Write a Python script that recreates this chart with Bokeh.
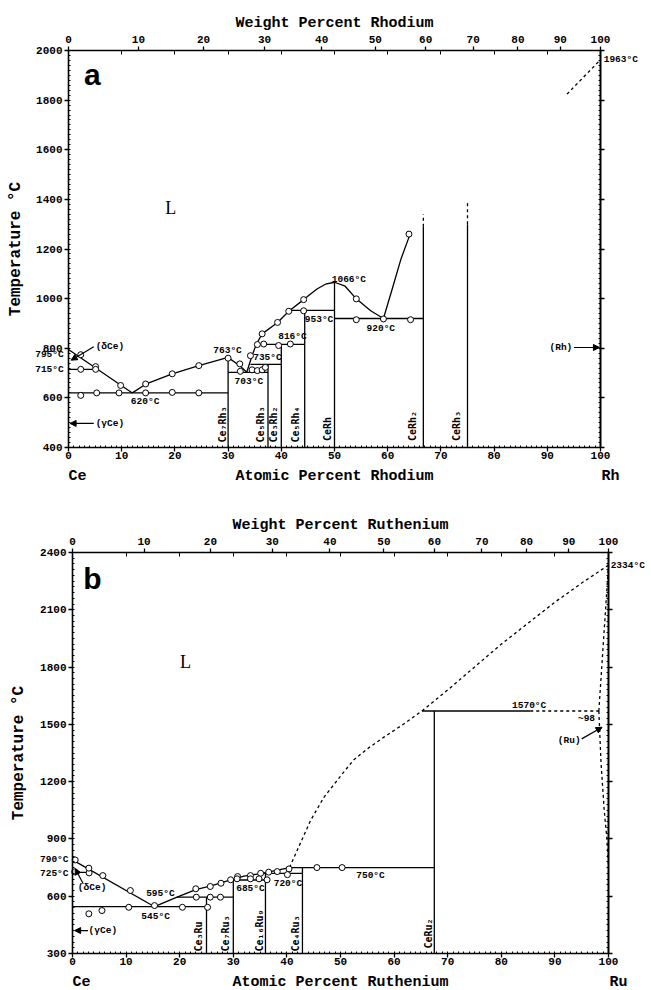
import numpy as np
from bokeh.plotting import figure
from bokeh.layouts import column
from bokeh.models import LinearAxis, FixedTicker, Arrow, NormalHead, Range1d
from bokeh.core.properties import value
from bokeh.embed import file_html
from bokeh.resources import INLINE

MONO = "Liberation Mono"
SERIF = "Liberation Serif"
SANS = "Liberation Sans"

# atomic weights used for the weight-percent scale
M_CE = 140.116
M_RH = 102.906
M_RU = 101.07

WT_TICKS = [0, 10, 20, 30, 40, 50, 60, 70, 80, 90, 100]
AT_TICKS = [0, 10, 20, 30, 40, 50, 60, 70, 80, 90, 100]

# ---------------- panel a : Ce-Rh ----------------
A_T_TICKS = [400, 600, 800, 1000, 1200, 1400, 1600, 1800, 2000]
A_LIQ1_X = [0, 12]
A_LIQ1_T = [795, 620]
A_LIQ2_X = [12, 14.5, 19.5, 24.5, 30, 32.3, 33.5]
A_LIQ2_T = [620, 655, 697, 730, 763, 728, 703]
A_LIQ3_X = [33.5, 34.5, 35.3, 36.4, 39.3, 41.4, 44.2, 46.7, 48.3, 50, 52, 54.1, 56.8, 59.2, 61, 62.5, 64.3]
A_LIQ3_T = [703, 770, 816, 858, 904, 949, 996, 1039, 1058, 1066, 1050, 999, 951, 920, 1050, 1160, 1265]

A_SEG_X0 = [0, 0, 30, 30, 37.5, 34.2, 40, 35.3, 44.4, 41.4, 50, 50, 66.7, 75]
A_SEG_T0 = [715, 620, 763, 703, 735, 735, 816, 816, 953, 953, 1066, 920, 1290, 1300]
A_SEG_X1 = [5.3, 30, 30, 37.5, 37.5, 40, 40, 44.4, 44.4, 50, 50, 66.7, 66.7, 75]
A_SEG_T1 = [715, 620, 400, 703, 400, 735, 400, 816, 400, 953, 400, 920, 400, 400]

A_DASH_X0 = [66.7, 75, 93.7]
A_DASH_T0 = [1290, 1300, 1824]
A_DASH_X1 = [66.7, 75, 100]
A_DASH_T1 = [1340, 1390, 1963]

A_PT_X = [2.3, 5.1, 2.3, 5.1, 2.3, 5.3, 9.5, 14.5, 19.5, 24.5, 9.8, 14.5, 19.5, 24.5, 30,
          32.2, 32.3, 34.5, 35.5, 36.4, 37.0, 34.2, 35.5, 36.4, 36.7, 39.5, 41.7, 39.3, 41.4,
          44.2, 44.2, 54.1, 54.1, 59.2, 64.3, 64.0]
A_PT_T = [774, 726, 715, 715, 610, 620, 620, 620, 622, 620, 650, 656, 697, 730, 760,
          737, 707, 713, 710, 713, 723, 770, 815, 858, 817, 811, 817, 904, 949,
          951, 996, 999, 915, 918, 915, 1260]

A_LAB_L_TEXT = ["(δCe)", "(γCe)", "1963°C"]
A_LAB_L_X = [5.1, 5.1, 100.6]
A_LAB_L_T = [806, 497, 1962]
A_LAB_C_TEXT = ["620°C", "763°C", "703°C", "735°C", "816°C", "953°C", "1066°C", "920°C"]
A_LAB_C_X = [14.4, 29.9, 33.9, 37.4, 42.1, 47.1, 52.7, 58.7]
A_LAB_C_T = [585, 790, 668, 762, 849, 915, 1078, 879]
A_LAB_R_TEXT = ["795°C", "715°C", "(Rh)"]
A_LAB_R_X = [-0.9, -0.9, 94.7]
A_LAB_R_T = [776, 715, 803]

A_PHASE_TEXT = ["Ce₇Rh₃", "Ce₅Rh₃", "Ce₃Rh₂", "Ce₅Rh₄", "CeRh", "CeRh₂", "CeRh₃"]
A_PHASE_X = [28.9, 36.0, 38.6, 42.7, 48.6, 64.6, 72.9]
A_PHASE_T = [420, 420, 420, 420, 426, 426, 426]

A_ARROW = [(4.75, 806, 0.5, 752), (4.75, 497, 0.3, 497), (95.0, 803, 99.8, 803)]

# ---------------- panel b : Ce-Ru ----------------
B_T_TICKS = [300, 600, 900, 1200, 1500, 1800, 2100, 2400]
B_LIQ1_X = [0, 15.3]
B_LIQ1_T = [790, 545]
B_LIQ2_X = [15.3, 19.5, 23, 26, 29.5, 32, 35.4, 38, 40.5]
B_LIQ2_T = [545, 595, 635, 655, 685, 705, 720, 735, 750]
B_DLIQ_X = [40.5, 41.9, 44.4, 46.9, 50.6, 52.5, 55.3, 58.1, 61.8, 65.2]
B_DLIQ_T = [750, 839, 996, 1118, 1250, 1315, 1378, 1433, 1502, 1570]
B_RULIQ_X = [65.2, 70, 75, 80, 85, 90, 95, 100]
B_RULIQ_T = [1570, 1680, 1800, 1920, 2030, 2140, 2240, 2334]
B_SOLV_X = [98.2, 98.6, 99.2, 99.7, 100]
B_SOLV_T = [1570, 1300, 1050, 900, 760]

B_SEG_X0 = [0, 0, 19.5, 25, 29.5, 30, 35.4, 36, 40.5, 42.9, 67.5, 65.2]
B_SEG_T0 = [725, 545, 595, 595, 685, 685, 720, 720, 750, 750, 1570, 1570]
B_SEG_X1 = [3.1, 25, 30, 25, 36, 30, 42.9, 36, 67.5, 42.9, 67.5, 85.4]
B_SEG_T1 = [725, 545, 595, 300, 685, 300, 720, 300, 750, 300, 300, 1570]

B_DASH_X0 = [85.4, 98.2]
B_DASH_T0 = [1570, 1570]
B_DASH_X1 = [98.2, 100]
B_DASH_T1 = [1570, 2334]

B_PT_X = [0.5, 0.4, 3.1, 3.05, 5.65, 10.8, 3.05, 5.5, 10.5, 15.3, 20.5, 25.2, 23.1, 25.7, 27.6,
          23.0, 25.7, 27.7, 29.5, 30.8, 33.2, 35.1, 36.6, 38.2, 40.4, 30.7, 33.2, 34.8, 36.3,
          40.1, 45.6, 50.3]
B_PT_T = [790, 728, 722, 747, 708, 630, 508, 525, 542, 551, 542, 542, 595, 595, 595,
          639, 651, 668, 686, 703, 708, 720, 726, 729, 743, 691, 691, 691, 686,
          713, 750, 750]

B_LAB_L_TEXT = ["(δCe)", "(γCe)", "2334°C"]
B_LAB_L_X = [1.0, 3.0, 100.4]
B_LAB_L_T = [645, 420, 2331]
B_LAB_C_TEXT = ["595°C", "545°C", "685°C", "720°C", "750°C", "1570°C", "~98"]
B_LAB_C_X = [16.4, 15.5, 33.2, 40.2, 55.6, 85.2, 95.9]
B_LAB_C_T = [612, 494, 640, 666, 708, 1597, 1529]
B_LAB_R_TEXT = ["790°C", "725°C", "(Ru)"]
B_LAB_R_X = [-0.75, -0.75, 94.8]
B_LAB_R_T = [790, 720, 1415]

B_PHASE_TEXT = ["Ce₃Ru", "Ce₇Ru₃", "Ce₁₆Ru₉", "Ce₄Ru₃", "CeRu₂"]
B_PHASE_X = [23.6, 28.5, 34.8, 41.6, 66.5]
B_PHASE_T = [310, 310, 310, 310, 326]

B_ARROW = [(2.0, 665, 0.5, 745), (2.9, 420, 0.4, 420), (95.0, 1424, 98.8, 1485)]

W = 651


def wt_to_at(w, m):
    if w <= 0:
        return 0.0
    if w >= 100:
        return 100.0
    a = w / m
    b = (100.0 - w) / M_CE
    return 100.0 * a / (a + b)


def style_axis(ax, size="11px"):
    ax.axis_line_width = 1.6
    ax.axis_line_color = "black"
    ax.major_tick_line_width = 1.3
    ax.minor_tick_line_width = 1
    ax.major_tick_line_color = "black"
    ax.minor_tick_line_color = "black"
    ax.major_label_text_font = MONO
    ax.major_label_text_font_style = "bold"
    ax.major_label_text_font_size = size
    ax.major_label_text_color = "black"
    ax.axis_label_text_font = MONO
    ax.axis_label_text_font_style = "bold"
    ax.axis_label_text_font_size = "15px"
    ax.axis_label_text_color = "black"


def build(h, box, tr, t_ticks, t_step, metal_m, wt_title, at_title, elem, panel,
          panel_xy, L_xy, left_standoff,
          liq_solid, liq_dash, segs, dsegs, pts, lab_l, lab_c, lab_r, phases, arrows):
    bl, br, bt, bb = box            # pixel box of the axes inside the figure
    tmin, tmax = tr
    sx = (br - bl) / 100.0
    sy = (bb - bt) / float(tmax - tmin)
    xr = Range1d(-bl / sx, 100 + (W - br) / sx)
    yr = Range1d(tmin - (h - bb) / sy, tmax + bt / sy)

    p = figure(width=W, height=h, x_range=xr, y_range=yr,
               x_axis_location=None, y_axis_location=None,
               output_backend="svg", toolbar_location=None, min_border=0)
    p.grid.visible = False
    p.outline_line_color = None
    p.background_fill_color = "white"
    p.border_fill_color = "white"

    t_minor = list(range(tmin, tmax + 1, t_step))

    # bottom axis (atomic percent)
    xa = LinearAxis(fixed_location=tmin, bounds=(0, 100),
                    ticker=FixedTicker(ticks=AT_TICKS, minor_ticks=list(range(0, 101))))
    style_axis(xa)
    xa.major_tick_in = 0
    xa.major_tick_out = 4
    xa.minor_tick_in = 2
    xa.minor_tick_out = 0
    xa.major_label_standoff = 0
    p.add_layout(xa, "below")

    # left axis (temperature)
    ya = LinearAxis(fixed_location=0, bounds=(tmin, tmax),
                    ticker=FixedTicker(ticks=t_ticks, minor_ticks=t_minor))
    style_axis(ya)
    ya.axis_label = "Temperature °C"
    ya.axis_label_text_font_size = "16px"
    ya.major_tick_in = 0
    ya.major_tick_out = 4
    ya.minor_tick_in = 2
    ya.minor_tick_out = 0
    ya.major_label_standoff = 2
    ya.axis_label_standoff = left_standoff
    p.add_layout(ya, "left")

    # right axis (ticks only)
    ra1 = LinearAxis(fixed_location=100, bounds=(tmin, tmax),
                     ticker=FixedTicker(ticks=[], minor_ticks=t_ticks))
    style_axis(ra1)
    ra1.minor_tick_in = 0
    ra1.minor_tick_out = 4
    ra1.minor_tick_line_width = 1.3
    p.add_layout(ra1, "right")
    ra2 = LinearAxis(fixed_location=100, bounds=(tmin, tmax),
                     ticker=FixedTicker(ticks=[], minor_ticks=t_minor))
    style_axis(ra2)
    ra2.minor_tick_in = 2
    ra2.minor_tick_out = 0
    p.add_layout(ra2, "right")

    # top axis (weight percent)
    wpos = [wt_to_at(w, metal_m) for w in WT_TICKS]
    ta = LinearAxis(fixed_location=tmax, bounds=(0, 100),
                    ticker=FixedTicker(ticks=wpos, minor_ticks=AT_TICKS[1:-1]),
                    major_label_overrides={pos: str(w) for pos, w in zip(wpos, WT_TICKS)})
    style_axis(ta)
    ta.axis_label = wt_title
    ta.major_tick_in = 0
    ta.major_tick_out = 4
    ta.minor_tick_in = 4
    ta.minor_tick_out = 0
    ta.major_label_standoff = 4
    ta.axis_label_standoff = 1
    p.add_layout(ta, "above")

    lw = 1.3
    for xs, ts in liq_solid:
        p.line(xs, ts, line_color="black", line_width=lw)
    for xs, ts in liq_dash:
        p.line(xs, ts, line_color="black", line_width=lw, line_dash="3 3")
    p.segment(x0=segs[0], y0=segs[1], x1=segs[2], y1=segs[3], line_color="black", line_width=lw)
    p.segment(x0=dsegs[0], y0=dsegs[1], x1=dsegs[2], y1=dsegs[3], line_color="black",
              line_width=lw, line_dash="3 3")
    p.scatter(pts[0], pts[1], marker="circle", size=6, fill_color="white",
              line_color="black", line_width=1)

    for (txt, xs, ts), al in ((lab_l, "left"), (lab_c, "center"), (lab_r, "right")):
        p.text(x=xs, y=ts, text=txt, text_font=value(MONO), text_font_style="bold",
               text_font_size="9.5px", text_align=al, text_baseline="middle",
               text_color="black")

    p.text(x=phases[1], y=phases[2], text=phases[0], angle=np.pi / 2,
           text_font=value("DejaVu Sans Mono"), text_font_style="bold",
           text_font_size="10px", text_align="left", text_baseline="middle",
           text_color="black")

    for x0, y0, x1, y1 in arrows:
        p.add_layout(Arrow(end=NormalHead(size=6, fill_color="black", line_color="black"),
                           x_start=x0, y_start=y0, x_end=x1, y_end=y1,
                           line_color="black", line_width=1.2))

    p.text(x=[L_xy[0]], y=[L_xy[1]], text=["L"], text_font=value(SERIF), text_font_size="18px",
           text_align="center", text_baseline="middle", text_color="black")
    p.text(x=[panel_xy[0]], y=[panel_xy[1]], text=[panel], text_font=value(SANS),
           text_font_style="bold", text_font_size="30px",
           text_align="center", text_baseline="middle", text_color="black")

    # bottom titles: element names at the ends, atomic-percent title centred
    bottom_t = tmin - 29 / sy
    p.text(x=[0, 100.2], y=[bottom_t] * 2, text=["Ce", elem],
           text_font=value(MONO), text_font_style="bold", text_font_size="15px",
           text_align="left", text_baseline="middle", text_color="black")
    p.text(x=[50], y=[bottom_t], text=[at_title],
           text_font=value(MONO), text_font_style="bold", text_font_size="15px",
           text_align="center", text_baseline="middle", text_color="black")
    return p


pa = build(492, (68, 600, 50, 447), (400, 2000), A_T_TICKS, 20, M_RH,
           "Weight Percent Rhodium", "Atomic Percent Rhodium", "Rh", "a",
           (4.5, 1905), (19.2, 1366), 8,
           [(A_LIQ1_X, A_LIQ1_T), (A_LIQ2_X, A_LIQ2_T), (A_LIQ3_X, A_LIQ3_T)], [],
           (A_SEG_X0, A_SEG_T0, A_SEG_X1, A_SEG_T1),
           (A_DASH_X0, A_DASH_T0, A_DASH_X1, A_DASH_T1),
           (A_PT_X, A_PT_T),
           (A_LAB_L_TEXT, A_LAB_L_X, A_LAB_L_T), (A_LAB_C_TEXT, A_LAB_C_X, A_LAB_C_T),
           (A_LAB_R_TEXT, A_LAB_R_X, A_LAB_R_T),
           (A_PHASE_TEXT, A_PHASE_X, A_PHASE_T), A_ARROW)

pb = build(498, (72, 608, 60, 461), (300, 2400), B_T_TICKS, 30, M_RU,
           "Weight Percent Ruthenium", "Atomic Percent Ruthenium", "Ru", "b",
           (3.7, 2263), (21.1, 1825), 9,
           [(B_LIQ1_X, B_LIQ1_T), (B_LIQ2_X, B_LIQ2_T)],
           [(B_DLIQ_X, B_DLIQ_T), (B_RULIQ_X, B_RULIQ_T), (B_SOLV_X, B_SOLV_T)],
           (B_SEG_X0, B_SEG_T0, B_SEG_X1, B_SEG_T1),
           (B_DASH_X0, B_DASH_T0, B_DASH_X1, B_DASH_T1),
           (B_PT_X, B_PT_T),
           (B_LAB_L_TEXT, B_LAB_L_X, B_LAB_L_T), (B_LAB_C_TEXT, B_LAB_C_X, B_LAB_C_T),
           (B_LAB_R_TEXT, B_LAB_R_X, B_LAB_R_T),
           (B_PHASE_TEXT, B_PHASE_X, B_PHASE_T), B_ARROW)

layout = column(pa, pb, spacing=0)
open("out.html", "w").write(file_html(layout, INLINE))
